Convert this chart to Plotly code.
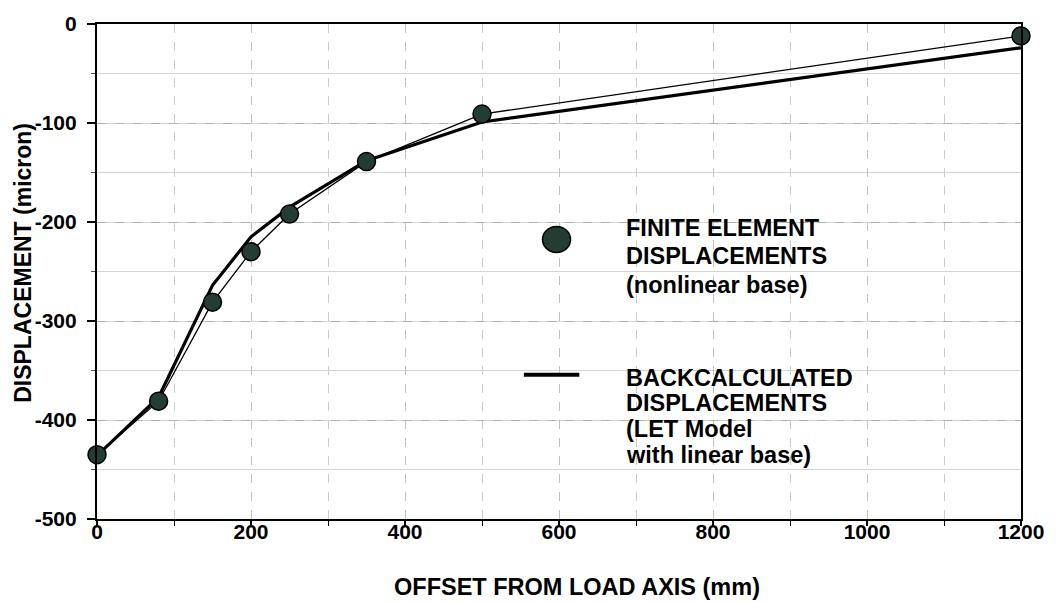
import plotly.graph_objects as go

# ---- data ----
offset_fe = [0, 80, 150, 200, 250, 350, 500, 1200]
disp_fe = [-435, -381, -281, -230, -192, -139, -91, -12]

offset_bc = [0, 80, 150, 200, 250, 350, 500, 1200]
disp_bc = [-436, -377, -264, -215, -185, -138, -99, -24]

x_tick_vals = [0, 200, 400, 600, 800, 1000, 1200]
x_tick_text = ["0", "200", "400", "600", "800", "1000", "1200"]
y_tick_vals = [0, -100, -200, -300, -400, -500]
y_tick_text = ["0", "-100", "-200", "-300", "-400", "-500"]

x_title = "OFFSET FROM LOAD AXIS (mm)"
y_title = "DISPLACEMENT (micron)"
legend_fe = ["FINITE ELEMENT", "DISPLACEMENTS", "(nonlinear base)"]
legend_bc = ["BACKCALCULATED", "DISPLACEMENTS", "(LET Model", "with linear base)"]

# ---- layout geometry (pixels) ----
W, H = 1056, 602
L, R, T, B = 97, 1030, 18, 519
FONT = "Liberation Sans, Arial, Helvetica, sans-serif"
MARKER_COLOR = "#233d33"


def px_x(px):
    return (px - L) / (R - L)


def px_y(py):
    return (B - py) / (B - T)


fig = go.Figure()

fig.add_trace(go.Scatter(
    x=offset_bc, y=disp_bc, mode="lines",
    line=dict(color="black", width=3.2),
    cliponaxis=False, showlegend=False,
))
fig.add_trace(go.Scatter(
    x=offset_fe, y=disp_fe, mode="lines+markers",
    line=dict(color="black", width=1.3),
    marker=dict(symbol="circle", size=18, color=MARKER_COLOR,
                line=dict(color="black", width=1.5)),
    cliponaxis=False, showlegend=False,
))

axis_common = dict(
    showline=True, linecolor="black", linewidth=2.2, mirror=True,
    zeroline=False, ticks="outside", tickcolor="black",
    tickfont=dict(family=FONT, size=21, color="black", weight="bold"),
)

fig.update_xaxes(
    range=[0, 1200], tickmode="array", tickvals=x_tick_vals,
    ticktext=x_tick_text,
    ticklen=5, tickwidth=1.5, ticklabelstandoff=-12,
    showgrid=True, gridcolor="#c0c0c0", gridwidth=1, griddash="dash",
    minor=dict(dtick=100, ticks="outside", ticklen=5, tickwidth=1.2,
               tickcolor="black", showgrid=True, gridcolor="#cccccc",
               griddash="dash", gridwidth=1),
    **axis_common,
)
fig.update_yaxes(
    range=[-500, 0], tickmode="array", tickvals=y_tick_vals,
    ticktext=y_tick_text,
    ticklen=8, tickwidth=1.5, ticklabelstandoff=6,
    showgrid=True, gridcolor="#b0b0b0", gridwidth=1, griddash="dash",
    minor=dict(dtick=50, ticks="outside", ticklen=4, tickwidth=1,
               tickcolor="#555555", showgrid=True, gridcolor="#d4d4d4",
               griddash="solid", gridwidth=1),
    **axis_common,
)

annotations = []
# axis titles
annotations.append(dict(
    x=px_x(582), y=px_y(588), xref="paper", yref="paper",
    text=x_title, showarrow=False, xanchor="center", yanchor="middle",
    font=dict(family=FONT, size=23.5, color="black", weight="bold"),
))
annotations.append(dict(
    x=px_x(22), y=px_y(260), xref="paper", yref="paper",
    text=y_title, showarrow=False, xanchor="center", yanchor="middle",
    textangle=-90,
    font=dict(family=FONT, size=23, color="black", weight="bold"),
))

# legend text
for i, t in enumerate(legend_fe):
    annotations.append(dict(
        x=px_x(629), y=px_y(224 + 29 * i), xref="paper", yref="paper",
        text=t, showarrow=False, xanchor="left", yanchor="middle",
        font=dict(family=FONT, size=23.5, color="black", weight="bold"),
    ))
for i, t in enumerate(legend_bc):
    annotations.append(dict(
        x=px_x(629), y=px_y(376 + 26 * i), xref="paper", yref="paper",
        text=t, showarrow=False, xanchor="left", yanchor="middle",
        font=dict(family=FONT, size=23.5, color="black", weight="bold"),
    ))

shapes = [
    # legend marker
    dict(type="circle", xref="paper", yref="paper",
         xsizemode="pixel", ysizemode="pixel",
         xanchor=px_x(561), yanchor=px_y(236),
         x0=-14, x1=14, y0=-13, y1=13,
         fillcolor=MARKER_COLOR, line=dict(color="black", width=1.5)),
    # legend line
    dict(type="line", xref="paper", yref="paper",
         x0=px_x(528), x1=px_x(584), y0=px_y(373), y1=px_y(373),
         line=dict(color="black", width=4)),
]

fig.update_layout(
    width=W, height=H,
    margin=dict(l=L, r=W - R, t=T, b=H - B, pad=0),
    paper_bgcolor="white", plot_bgcolor="white",
    annotations=annotations, shapes=shapes,
    showlegend=False,
)

fig.write_html("out.html")
